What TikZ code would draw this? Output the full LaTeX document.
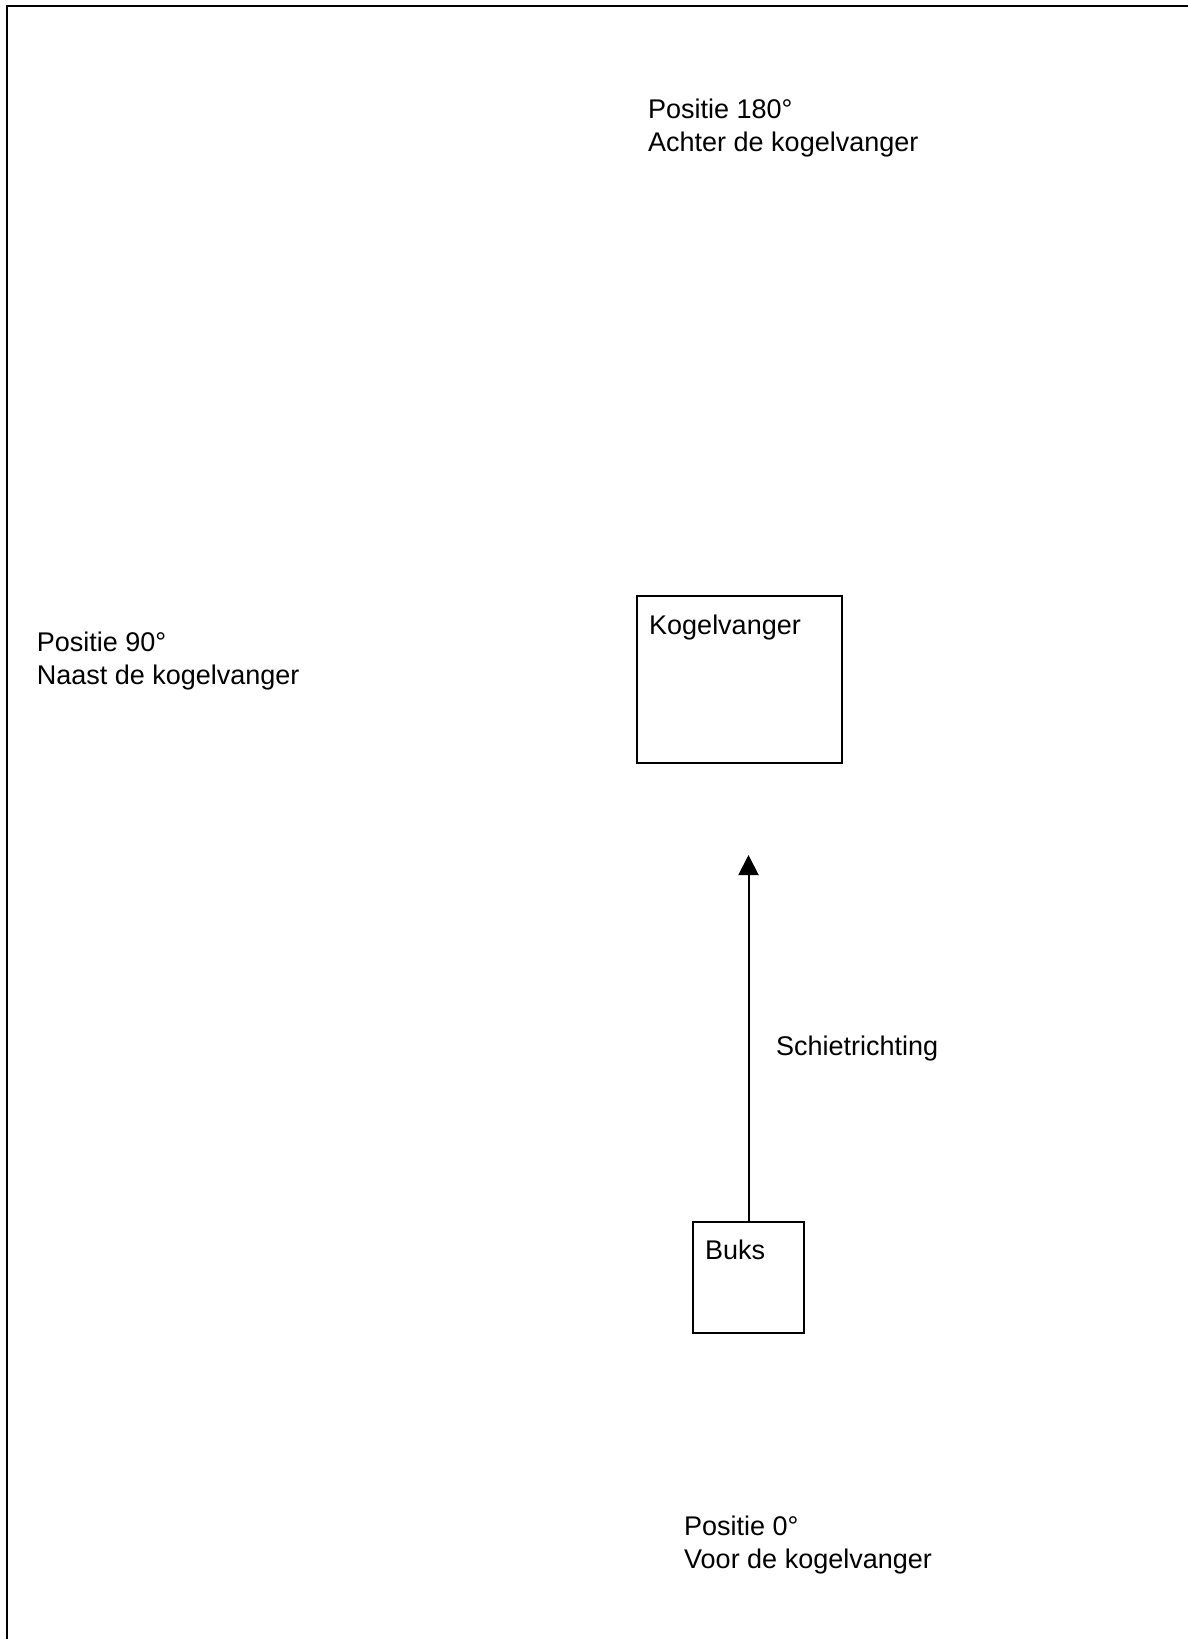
\documentclass[tikz,border=0pt]{standalone}
\usepackage{fontspec}
\setmainfont{Liberation Sans}
\usetikzlibrary{arrows.meta}
\tikzset{
  box/.style={draw, line width=1.6pt, rectangle, inner sep=0pt, outer sep=0pt, anchor=north west},
  lbl/.style={anchor=base west, inner sep=0pt, font=\fontsize{27}{33}\selectfont, align=left},
  frame/.style={line width=2.2pt},
  shot/.style={line width=2pt, -{Triangle[length=20pt,width=20pt]}}
}
\begin{document}
\begin{tikzpicture}[x=1pt,y=-1pt]
\useasboundingbox (0,0) rectangle (1187,1639);
% frame (only top and left edges visible)
\coordinate (fbl) at (7,1645);
\coordinate (ftl) at (7,6);
\coordinate (ftr) at (1195,6);
\draw[frame] (fbl) -- (ftl) -- (ftr);
% boxes
\node[box, minimum width=205pt, minimum height=167pt] (kv) at (637,596) {};
\node[lbl] (kvt) at (649,634) {Kogelvanger};
\node[box, minimum width=111pt, minimum height=111pt] (buks) at (693,1222) {};
\node[lbl] (bukst) at (705,1259) {Buks};
% arrow
\coordinate (tip) at (buks.north |- 0,855);
\draw[shot] (buks.north) -- (tip);
\node[lbl] (sr) at (776,1055) {Schietrichting};
% position labels (anchor = baseline of last line)
\node[lbl] (p180) at (648,151) {Positie 180°\\Achter de kogelvanger};
\node[lbl] (p90) at (36.6,684) {Positie 90°\\Naast de kogelvanger};
\node[lbl] (p0) at (684,1568) {Positie 0°\\Voor de kogelvanger};
\end{tikzpicture}
\end{document}
